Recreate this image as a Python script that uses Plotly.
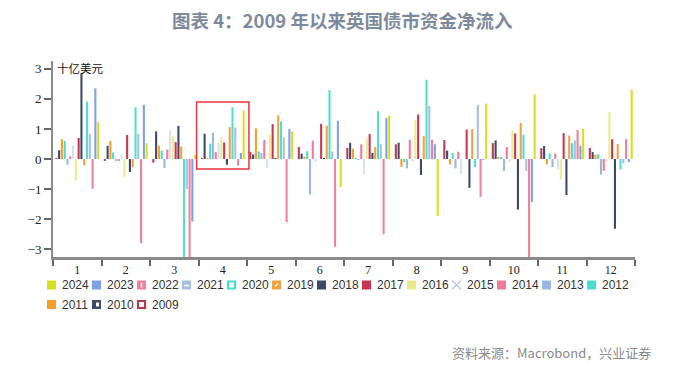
import plotly.graph_objects as go

months = [str(m) for m in range(1, 13)]
years = ["2009", "2010", "2011", "2012", "2013", "2014", "2015", "2016",
         "2017", "2018", "2019", "2020", "2021", "2022", "2023", "2024"]

v2009 = [0.03, -0.05, -0.12, 0.02, 0.24, 0.40, 0.37, 0.49, 0.63, 0.53, 0.36, 0.37]
v2010 = [0.29, 0.44, 0.92, 0.84, 0.15, 0.18, 0.54, 0.54, 0.28, 0.62, 0.43, 0.23]
v2011 = [0.66, 0.60, 0.44, 0.02, 1.02, 0.08, 0.34, -0.26, -0.18, 0.05, -0.18, 0.14]
v2012 = [0.60, 0.22, 0.28, 0.51, 0.25, 0.26, 0.03, -0.10, 0.20, 0.05, 0.18, 0.16]
v2013 = [-0.19, -0.05, -0.30, 0.87, 0.20, -1.18, -0.03, -0.31, -0.31, -0.40, -0.27, -0.52]
v2014 = [0.09, -0.05, 0.31, 0.23, 0.64, 0.61, 0.49, 0.64, 0.24, 0.40, 0.18, -0.39]
v2015 = [0.45, 0.15, 0.95, 0.55, -0.30, -0.10, -0.50, -0.10, -0.50, -0.10, -0.35, -0.10]
v2016 = [-0.72, -0.60, 0.75, 0.72, 0.81, 0.0, 0.70, 1.31, 0.0, 0.94, -0.68, 1.56]
v2017 = [0.70, 0.80, 0.56, 0.55, 1.16, 1.17, 0.83, 1.48, 0.98, 0.85, 0.86, 0.66]
v2018 = [2.83, -0.43, 1.10, -0.19, 0.03, 0.03, 0.20, -0.53, -0.96, -1.68, -1.20, -2.32]
v2019 = [-0.21, -0.27, 0.42, 1.06, 1.45, 1.11, 0.40, 0.76, 1.00, 1.20, 0.78, 0.50]
v2020 = [1.91, 1.72, -3.50, 1.72, 1.25, 2.30, 1.59, 2.64, -0.27, 0.81, 0.53, -0.35]
v2021 = [0.84, 0.84, -1.00, 1.05, 0.72, 0.25, 0.49, 1.76, 1.80, -0.40, 0.62, -0.15]
v2022 = [-0.99, -2.80, -3.50, -0.22, -2.10, -2.92, -2.50, 0.64, -1.26, -3.50, 0.97, 0.66]
v2023 = [2.35, 1.80, -2.08, 0.20, 1.00, 1.27, 1.36, 0.49, -0.03, -1.43, 0.44, -0.10]
v2024 = [1.22, 0.52, 0.14, 1.61, 0.92, -0.93, 1.44, -1.89, 1.84, 2.15, 1.00, 2.30]

values = [v2009, v2010, v2011, v2012, v2013, v2014, v2015, v2016,
          v2017, v2018, v2019, v2020, v2021, v2022, v2023, v2024]

colors = ["#bf3b55", "#3f4a6a", "#f5a02a", "#48ddd0", "#9cb8de", "#f27a96",
          "rgba(190,205,232,0.6)", "#eeea94", "#c9374f", "#3e4968", "#f1a23e",
          "#4fe0d3", "#a9c0e0", "#f0819a", "#7fa0e8", "#d6e01e"]

yticks = [-3, -2, -1, 0, 1, 2, 3]

# page has an 8px body margin, so the figure is placed at (8, 8) in the window
OFF = 8
W, H = 680, 360
L, R, T, B = 45, 53, 53, 111
PW, PH = W - L - R, H - T - B


def pxx(x):
    # x in window pixels -> paper coords
    return (x - OFF - L) / PW


def pxy(y):
    # y in window pixels -> paper coords
    return (T + PH - (y - OFF)) / PH


fig = go.Figure()
for yr, vals, col in zip(years, values, colors):
    fig.add_trace(go.Bar(x=months, y=vals, name=yr, marker_color=col,
                         marker_line_width=0, showlegend=False))

axis_col = "#8a8a8a"
fig.update_layout(
    width=W, height=H,
    margin=dict(l=L, r=R, t=T, b=B),
    paper_bgcolor="white", plot_bgcolor="white",
    barmode="group", bargap=0.08, bargroupgap=0.25,
    xaxis=dict(type="category", tickson="boundaries", ticks="outside",
               ticklen=6, tickwidth=1.5, tickcolor="#666",
               showline=True, linecolor=axis_col, linewidth=2.5,
               showgrid=False, zeroline=False,
               tickfont=dict(family="Liberation Serif", size=12, color="#222")),
    yaxis=dict(range=[-3.26, 3.26], tickvals=yticks, ticks="outside",
               ticklen=7, tickwidth=1.5, tickcolor="#666",
               showline=True, linecolor=axis_col, linewidth=2,
               showgrid=False, zeroline=False,
               tickfont=dict(family="Liberation Serif", size=13, color="#222")),
)

# highlight box around April
fig.add_shape(type="rect", xref="x", yref="y", x0=2.46, x1=3.54, y0=-0.33, y1=1.9,
              line=dict(color="#e8343f", width=1.5), fillcolor="rgba(0,0,0,0)")

annotations = []
annotations.append(dict(text="图表 4：2009 年以来英国债市资金净流入", xref="paper", yref="paper",
                        x=pxx(342), y=pxy(20.5), xanchor="center", yanchor="middle",
                        showarrow=False, borderpad=0,
                        font=dict(family="Noto Sans CJK SC", size=18.5, color="#7d8a9d", weight="bold")))
annotations.append(dict(text="十亿美元", xref="paper", yref="paper",
                        x=pxx(55), y=pxy(68), xanchor="left", yanchor="middle",
                        showarrow=False,
                        font=dict(family="Noto Sans CJK SC", size=11.5, color="#111")))
annotations.append(dict(text="资料来源：Macrobond，兴业证券", xref="paper", yref="paper",
                        x=pxx(450), y=pxy(352), xanchor="left", yanchor="middle",
                        showarrow=False,
                        font=dict(family="Noto Sans CJK SC", size=13, color="#8a8a8a")))

# custom legend
legend_order = list(range(15, -1, -1))  # 2024 ... 2009
legend_fill = {
    "2009": ("white", "#b8364f"), "2020": ("white", "#45dccf"),
}
shapes = []
for k, idx in enumerate(legend_order):
    yr = years[idx]
    row, colpos = divmod(k, 13)
    x0 = 47 + 45 * colpos
    yc = 285 + 19.5 * row
    s = 9
    if yr == "2015":
        for (a, b, c, d) in [(x0, yc - 4.5, x0 + s, yc + 4.5), (x0, yc + 4.5, x0 + s, yc - 4.5)]:
            shapes.append(dict(type="line", xref="paper", yref="paper",
                               x0=pxx(a), y0=pxy(b), x1=pxx(c), y1=pxy(d),
                               line=dict(color="#b8c8e6", width=1.2)))
    elif yr in legend_fill:
        fc, lc = legend_fill[yr]
        shapes.append(dict(type="rect", xref="paper", yref="paper",
                           x0=pxx(x0 + 1), x1=pxx(x0 + s - 1), y0=pxy(yc + 3.5), y1=pxy(yc - 3.5),
                           fillcolor=fc, line=dict(color=lc, width=2.2)))
    else:
        c = colors[idx] if yr != "2016" else "#ebe886"
        shapes.append(dict(type="rect", xref="paper", yref="paper",
                           x0=pxx(x0), x1=pxx(x0 + s), y0=pxy(yc + 4.5), y1=pxy(yc - 4.5),
                           fillcolor=c, line=dict(width=0)))
        if yr == "2022":
            shapes.append(dict(type="line", xref="paper", yref="paper",
                               x0=pxx(x0 + 4.5), x1=pxx(x0 + 4.5), y0=pxy(yc - 2.5), y1=pxy(yc + 2.5),
                               line=dict(color="white", width=1.5)))
        elif yr == "2021":
            shapes.append(dict(type="line", xref="paper", yref="paper",
                               x0=pxx(x0 + 2), x1=pxx(x0 + 7), y0=pxy(yc + 0.5), y1=pxy(yc + 0.5),
                               line=dict(color="white", width=1.5)))
        elif yr == "2019":
            shapes.append(dict(type="line", xref="paper", yref="paper",
                               x0=pxx(x0 + 3), x1=pxx(x0 + 6), y0=pxy(yc + 1.5), y1=pxy(yc - 1.5),
                               line=dict(color="white", width=1.2)))
        elif yr == "2010":
            shapes.append(dict(type="rect", xref="paper", yref="paper",
                               x0=pxx(x0 + 4), x1=pxx(x0 + 7), y0=pxy(yc + 2), y1=pxy(yc - 2),
                               fillcolor="white", line=dict(width=0)))
    annotations.append(dict(text=yr, xref="paper", yref="paper",
                            x=pxx(x0 + 13), y=pxy(yc), xanchor="left", yanchor="middle",
                            showarrow=False,
                            font=dict(family="Liberation Sans", size=12, color="#333")))

for sh in shapes:
    fig.add_shape(**sh)
fig.update_layout(annotations=annotations)

fig.write_html("out.html")
